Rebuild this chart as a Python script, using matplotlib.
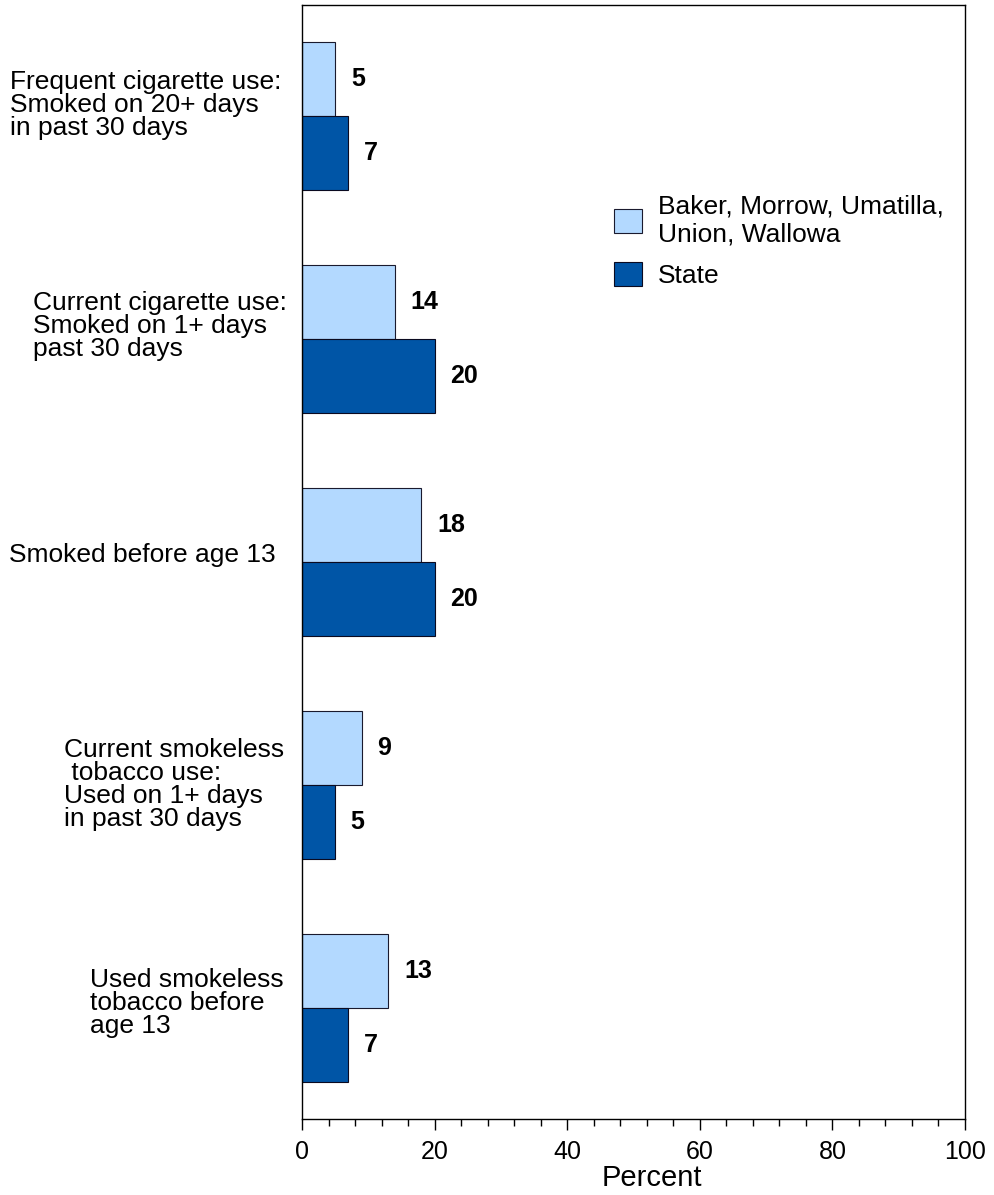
import numpy as np
import matplotlib.pyplot as plt
import matplotlib.transforms as mtrans
from matplotlib.ticker import MultipleLocator

plt.rcParams['font.family'] = ['Liberation Sans', 'DejaVu Sans']

# data
labels = ["Frequent cigarette use:\nSmoked on 20+ days\nin past 30 days",
          "Current cigarette use:\nSmoked on 1+ days\npast 30 days",
          "Smoked before age 13",
          "Current smokeless\n tobacco use:\nUsed on 1+ days\nin past 30 days",
          "Used smokeless\ntobacco before\nage 13"]
region = [5, 14, 18, 9, 13]
state = [7, 20, 20, 5, 7]
series_names = ["Baker, Morrow, Umatilla,\nUnion, Wallowa", "State"]

light = '#B3D9FF'
dark = '#0055A6'

fig = plt.figure(figsize=(9.95, 11.95), dpi=100)
ax = fig.add_axes([302/995, 1 - 1119/1195, 663/995, 1114/1195])

y = np.arange(len(labels))
h = 0.332
ax.barh(y - h/2, region, height=h, color=light, edgecolor='#1a1a2e', linewidth=0.8, label=series_names[0])
ax.barh(y + h/2, state, height=h, color=dark, edgecolor='#0a0a20', linewidth=0.8, label=series_names[1])

for i in range(len(labels)):
    ax.text(region[i] + 2.4, y[i] - h/2, str(region[i]), ha='left', va='center',
            fontsize=18, fontweight='bold')
    ax.text(state[i] + 2.3, y[i] + h/2, str(state[i]), ha='left', va='center',
            fontsize=18, fontweight='bold')

ax.set_xlim(0, 100)
ax.set_ylim(len(labels) - 0.5, -0.5)
ax.set_yticks([])
ax.xaxis.set_major_locator(MultipleLocator(20))
ax.xaxis.set_minor_locator(MultipleLocator(4))
ax.tick_params(axis='x', which='major', direction='out', length=8, width=1, labelsize=18, pad=7)
ax.tick_params(axis='x', which='minor', direction='out', length=5, width=1)
ax.set_xlabel("Percent", fontsize=21, labelpad=0, x=0.528)
for s in ax.spines.values():
    s.set_linewidth(1)

# category labels at left
trans = mtrans.blended_transform_factory(fig.transFigure, ax.transData)
label_x = [10, 33, 9, 64, 90]
label_dy = [-0.05, -0.06, -0.03, 0.0, -0.02]
for i, lab in enumerate(labels):
    ax.text(label_x[i]/995, y[i] + label_dy[i], lab, transform=trans, ha='left', va='center',
            fontsize=19, linespacing=0.95)

ax.legend(loc='upper left', bbox_to_anchor=(590/995, 1 - 171/1195), bbox_transform=fig.transFigure,
          frameon=False, prop={'size': 19}, handlelength=1.06, handleheight=1.0, handletextpad=0.6,
          labelspacing=0.6)

fig.savefig('out.png', dpi=100)
